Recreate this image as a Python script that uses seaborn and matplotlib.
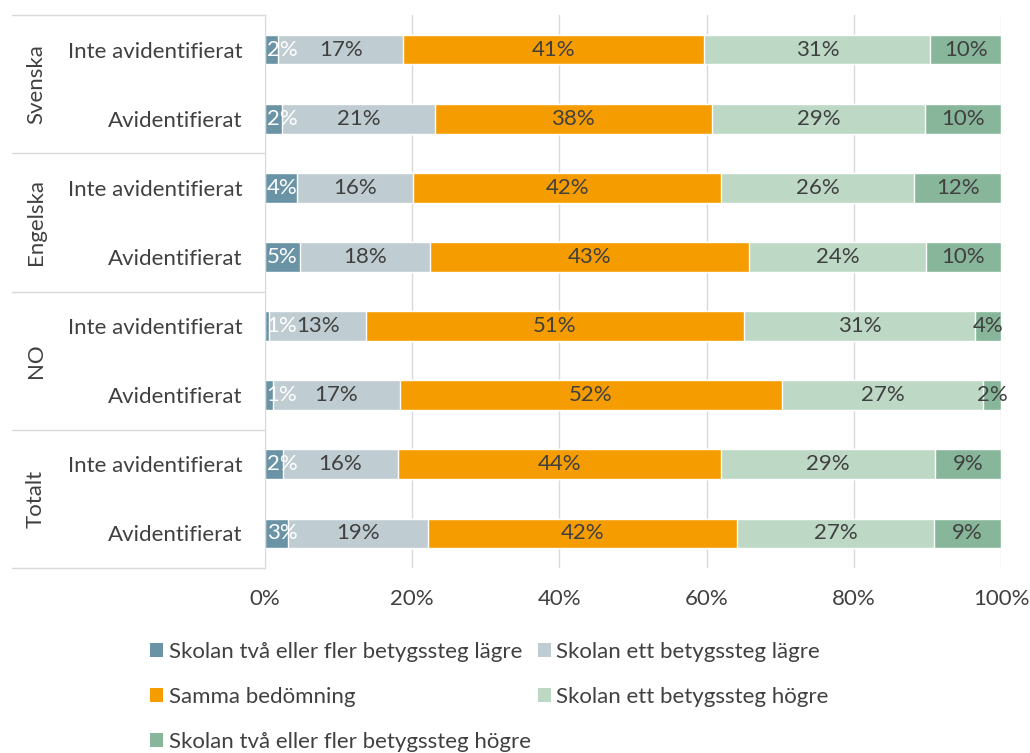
import numpy as np
import pandas as pd
import seaborn as sns
import matplotlib.pyplot as plt
from matplotlib.patches import Patch
from matplotlib.transforms import blended_transform_factory

groups = ["Svenska", "Engelska", "NO", "Totalt"]
subgroups = ["Inte avidentifierat", "Avidentifierat"]
categories = ["Skolan två eller fler betygssteg lägre", "Skolan ett betygssteg lägre",
              "Samma bedömning", "Skolan ett betygssteg högre",
              "Skolan två eller fler betygssteg högre"]
colors = ["#6A93A5", "#BFCCD1", "#F59C00", "#BED8C6", "#88B69A"]

# percent per row, top to bottom
two_lower = [1.8, 2.3, 4.3, 4.8, 0.6, 1.1, 2.4, 3.1]
one_lower = [17.0, 20.8, 15.8, 17.6, 13.1, 17.2, 15.7, 19.0]
same = [40.9, 37.6, 41.9, 43.4, 51.4, 51.9, 43.9, 42.0]
one_higher = [30.7, 29.0, 26.2, 24.0, 31.4, 27.4, 29.0, 26.8]
two_higher = [9.6, 10.3, 11.8, 10.2, 3.5, 2.4, 9.0, 9.1]

sns.set_style("white")
plt.rcParams['font.family'] = ['Lato', 'DejaVu Sans']
FS = 16
TXT = "#404040"

row_ids = [f"{g}|{s}" for g in groups for s in subgroups]
df = pd.DataFrame({"row": row_ids, categories[0]: two_lower, categories[1]: one_lower,
                   categories[2]: same, categories[3]: one_higher, categories[4]: two_higher})
vals = df[categories].to_numpy()
cum = vals.cumsum(axis=1)

fig = plt.figure(figsize=(10.3, 7.53), dpi=100)
ax = fig.add_axes([265/1030, 1 - 568/753, 736/1030, 553/753])

# stacked bars: draw cumulative totals from the right end backwards
for k in range(len(categories) - 1, -1, -1):
    sns.barplot(x=cum[:, k], y=row_ids, order=row_ids, orient="h", color=colors[k],
                saturation=1, width=0.43, ax=ax, zorder=3)

# data labels
for i in range(len(row_ids)):
    for k in range(len(categories)):
        c = cum[i, k] - vals[i, k] / 2
        if k == 0:
            c = max(c, 2.3)
        ax.text(c, i, f"{vals[i, k]:.0f}%", ha="center", va="center", fontsize=FS,
                color="white" if k == 0 else TXT, zorder=4)

ax.set_xlim(0, 100)
ax.set_ylim(len(row_ids) - 0.5, -0.5)
ax.set_xticks([0, 20, 40, 60, 80, 100])
ax.set_xticklabels([f"{t}%" for t in [0, 20, 40, 60, 80, 100]])
ax.set_yticks(range(len(row_ids)))
ax.set_yticklabels([r.split("|")[1] for r in row_ids])
ax.tick_params(axis="x", length=0, pad=15, labelsize=FS, labelcolor=TXT)
ax.tick_params(axis="y", length=0, pad=16, labelsize=FS, labelcolor=TXT)
ax.set_xlabel("")
ax.set_ylabel("")
ax.grid(axis="x", color="#D9D9D9", linewidth=1, zorder=0)
for side in ["top", "right", "bottom"]:
    ax.spines[side].set_visible(False)
ax.spines["left"].set_color("#D9D9D9")
ax.spines["left"].set_zorder(5)

# grouped category axis
tr = blended_transform_factory(ax.transAxes, ax.transData)
for b in [-0.5, 1.5, 3.5, 5.5, 7.5]:
    ax.plot([-253/736, 0], [b, b], transform=tr, color="#D9D9D9", lw=1, clip_on=False)
for j, g in enumerate(groups):
    ax.text(-229/736, 2 * j + 0.5, g, transform=tr, rotation=90, ha="center", va="center",
            fontsize=FS, color=TXT)

handles = [Patch(facecolor=c, edgecolor="none") for c in colors]
order = [0, 2, 4, 1, 3]
fig.legend([handles[i] for i in order], [categories[i] for i in order], ncol=2,
           loc="upper left", bbox_to_anchor=(130/1030, 1 - 622/753), frameon=False,
           fontsize=FS, labelcolor=TXT, handlelength=0.6, handleheight=0.6,
           handletextpad=0.25, labelspacing=1.12, columnspacing=0.3)

fig.savefig("out.png", dpi=100)
